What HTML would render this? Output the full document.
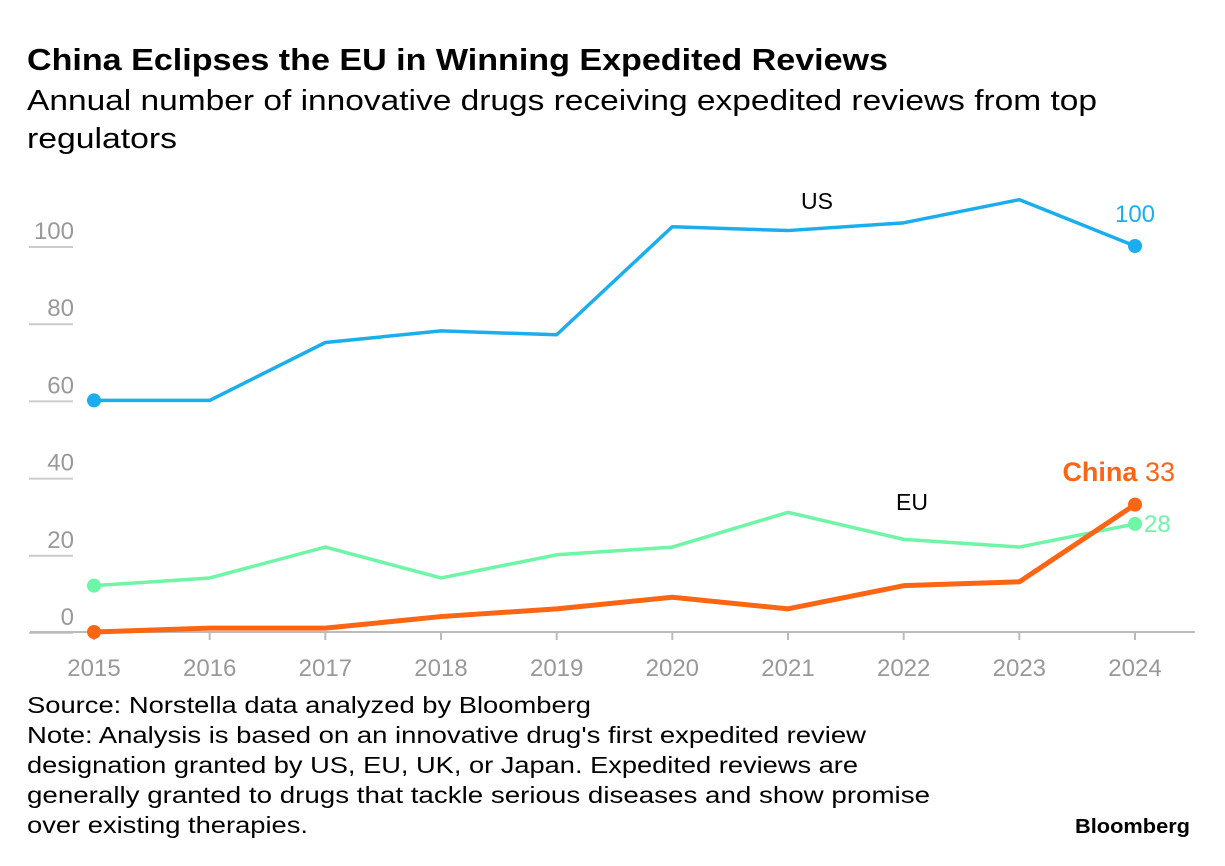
<!DOCTYPE html>
<html><head><meta charset="utf-8"><style>
body{margin:0;background:#fff;font-family:"Liberation Sans",sans-serif;}
svg{display:block}
</style></head><body>
<svg width="1225" height="866">
<text x="27" y="70" font-size="31" font-weight="bold" fill="#000" textLength="861" lengthAdjust="spacingAndGlyphs">China Eclipses the EU in Winning Expedited Reviews</text>
<text x="27" y="110" font-size="29" fill="#000" textLength="1070" lengthAdjust="spacingAndGlyphs">Annual number of innovative drugs receiving expedited reviews from top</text>
<text x="27" y="148" font-size="29" fill="#000" textLength="150" lengthAdjust="spacingAndGlyphs">regulators</text>
<g id="plot"></g>
<text x="27" y="713" font-size="23" fill="#000" textLength="564" lengthAdjust="spacingAndGlyphs">Source: Norstella data analyzed by Bloomberg</text>
<text x="27" y="743" font-size="23" fill="#000" textLength="839" lengthAdjust="spacingAndGlyphs">Note: Analysis is based on an innovative drug's first expedited review</text>
<text x="27" y="773" font-size="23" fill="#000" textLength="831" lengthAdjust="spacingAndGlyphs">designation granted by US, EU, UK, or Japan. Expedited reviews are</text>
<text x="27" y="803" font-size="23" fill="#000" textLength="903" lengthAdjust="spacingAndGlyphs">generally granted to drugs that tackle serious diseases and show promise</text>
<text x="27" y="833" font-size="23" fill="#000" textLength="281" lengthAdjust="spacingAndGlyphs">over existing therapies.</text>
<text x="1075" y="833" font-size="20" font-weight="bold" fill="#000" textLength="115" lengthAdjust="spacingAndGlyphs">Bloomberg</text>
</svg>
<script>
const years=[2015,2016,2017,2018,2019,2020,2021,2022,2023,2024];
const usVals=[60,60,75,78,77,105,104,106,112,100];
const euVals=[12,14,22,14,20,22,31,24,22,28];
const chinaVals=[0,1,1,4,6,9,6,12,13,33];
const yTicks=[0,20,40,60,80,100];
const NS="http://www.w3.org/2000/svg";
const g=document.getElementById('plot');
const x=i=>94+i*(1135-94)/(years.length-1);
const y=v=>632-v*3.86;
function mk(t,a,p){const e=document.createElementNS(NS,t);for(const k in a)e.setAttribute(k,a[k]);(p||g).appendChild(e);return e;}
yTicks.forEach(t=>{
  const l=mk('line',{x1:29,x2:73,y1:y(t)+1,y2:y(t)+1,stroke:'#ccc','stroke-width':2});
  
  
  const tx=mk('text',{x:74,y:y(t)-7,'font-size':24,fill:'#999','text-anchor':'end'});
  tx.textContent=t;
  
  
});
const ax=mk('line',{x1:30,x2:1195,y1:632,y2:632,stroke:'#bbb','stroke-width':2});


years.forEach((yr,i)=>{
  const tk=mk('line',{x1:x(i),x2:x(i),y1:632,y2:640,stroke:'#bbb','stroke-width':2});
  
  
  const tx=mk('text',{x:x(i),y:676,'font-size':24,fill:'#999','text-anchor':'middle'});
  tx.textContent=yr;
  
  
});
function series(vals,color,w,name){
  const p=mk('polyline',{points:vals.map((v,i)=>x(i)+','+y(v)).join(' '),fill:'none',stroke:color,'stroke-width':w,'stroke-linejoin':'round'});
  
  
  [0,vals.length-1].forEach(i=>{
    const c=mk('circle',{cx:x(i),cy:y(vals[i]),r:7,fill:color});
    
    
  });
}
series(usVals,'#1aaeef',3.5,'us');
series(euVals,'#6ef5a6',3.5,'eu');
series(chinaVals,'#fb6513',5,'china');
const n=years.length-1;
function lab(t,a,name){const e=mk('text',a);e.textContent=t;return e;}
lab('US',{x:817,y:209,'font-size':23,fill:'#000','text-anchor':'middle'},'us-label');
lab('EU',{x:912,y:510,'font-size':23,fill:'#000','text-anchor':'middle'},'eu-label');
lab(usVals[n],{x:x(n),y:y(usVals[n])-24,'font-size':24,fill:'#1aaeef','text-anchor':'middle'},'us-value-label');
lab(euVals[n],{x:x(n)+9,y:y(euVals[n])+8,'font-size':24,fill:'#6ef5a6'},'eu-value-label');
const cl=lab('',{x:1175,y:481,'font-size':27,fill:'#fb6513','text-anchor':'end'},'china-label');
const b=document.createElementNS(NS,'tspan');b.setAttribute('font-weight','bold');b.textContent='China ';cl.appendChild(b);
const v=document.createElementNS(NS,'tspan');v.textContent=chinaVals[n];cl.appendChild(v);
</script>
</body></html>
